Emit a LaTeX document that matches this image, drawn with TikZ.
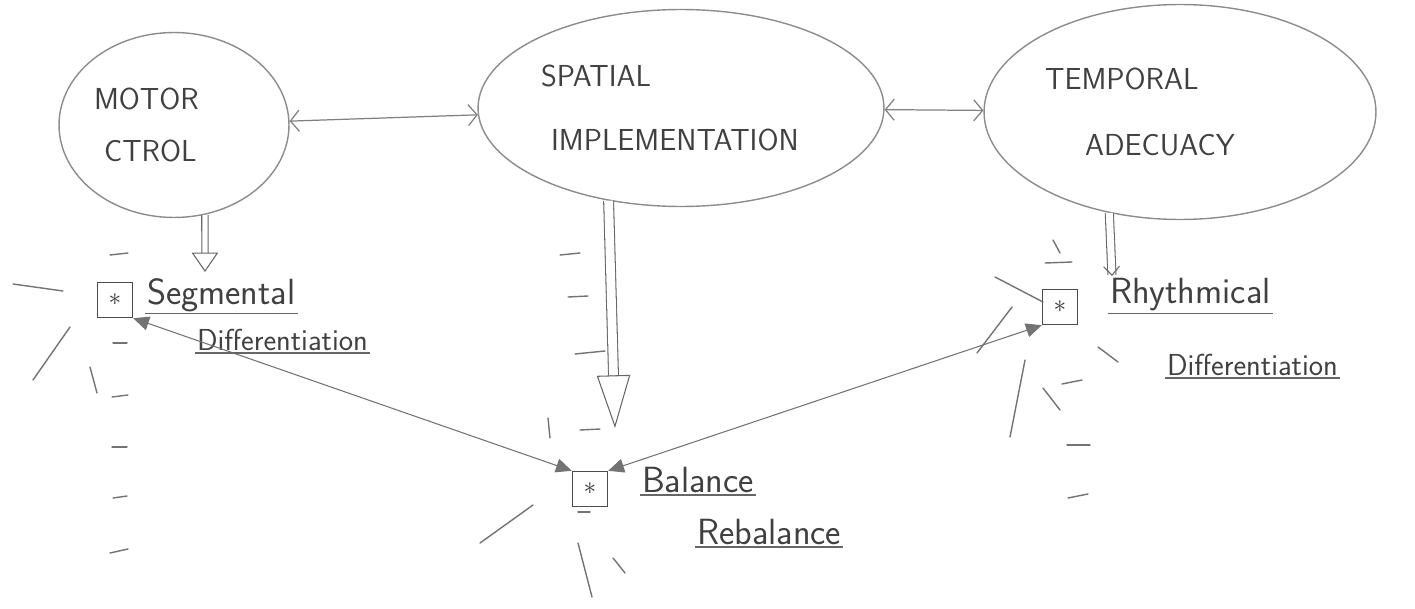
\documentclass[tikz,border=0pt]{standalone}
\usetikzlibrary{shapes.geometric}
\usetikzlibrary{arrows.meta}
\tikzset{
    idea/.style={
        ellipse,
        draw=black!45,
        line width=0.8pt,
        inner sep=0pt,
        align=left,
        text=black!75,
        font=\sffamily\LARGE},
    marker/.style={
        rectangle,
        draw=black!70,
        line width=0.8pt,
        minimum size=0.7cm,
        inner sep=0pt,
        text=black!80,
        font=\Large},
    note/.style={
        anchor=west,
        inner sep=1pt,
        text=black!75,
        font=\sffamily\huge},
    rule/.style={draw=black!60, line width=0.7pt},
    tick/.style={draw=black!55, line width=0.8pt, line cap=round},
    link/.style={draw=black!50, line width=0.7pt,
        {Straight Barb[length=5pt,width=12pt]}-{Straight Barb[length=5pt,width=12pt]}},
    sync/.style={draw=black!55, line width=0.6pt,
        {Triangle[length=9pt,width=8pt]}-{Triangle[length=9pt,width=8pt]}},
    feed/.style={draw=black!60, double=white, line width=0.6pt}}

\begin{document}
\begin{tikzpicture}[x=0.02cm,y=-0.02cm]
        \useasboundingbox (0,0) rectangle (1415,608);

        \node[idea, text width=3.2cm, minimum width=4.6cm, minimum height=3.7cm] (motor) at (174,125) {MOTOR\\[8pt]\hspace*{0.2cm}CTROL};
        \node[idea, text width=5.6cm, minimum width=8.12cm, minimum height=3.94cm] (spatial) at (681,108) {SPATIAL\\[14pt]\hspace*{0.2cm}IMPLEMENTATION};
        \node[idea, text width=5.4cm, minimum width=7.84cm, minimum height=4.3cm] (temporal) at (1180,112) {TEMPORAL\\[16pt]\hspace*{0.8cm}ADECUACY};

        \node[marker] (seg) at (115,300) {$\ast$};
        \node[marker] (bal) at (590,489) {$\ast$};
        \node[marker] (rhy) at (1060,307) {$\ast$};

        \node[note] (segA) at (145,295) {Segmental};
        \node[note, font=\sffamily\LARGE] (segB) at (195,340) {Differentiation};
        \node[note] (balA) at (640,480) {Balance};
        \node[note] (balB) at (695,532) {Rebalance};
        \node[note] (rhyA) at (1108,295) {Rhythmical};
        \node[note, font=\sffamily\LARGE] (rhyB) at (1165,365) {Differentiation};

        \coordinate (segin) at (205,272);
        \coordinate (balin) at (615,428);
        \coordinate (rhyin) at (1112,276);

        \draw[link] (motor) -- (spatial);
        \draw[link] (spatial) -- (temporal);

        \draw[feed, double distance=3pt, -{Triangle[open,length=11pt,width=15pt]}] (motor.-71) -- (segin);
        \draw[feed, double distance=5pt, -{Triangle[open,length=30pt,width=19pt]}] (spatial.-128) -- (balin);
        \draw[feed, double distance=4pt, -{Straight Barb[length=5pt,width=9pt]}] (temporal.-125) -- (rhyin);

        \draw[sync] (seg.south east) -- (bal.north west);
        \draw[sync] (rhy.south west) -- (bal.north east);

        \foreach \n in {segA,segB,balA,balB,rhyA,rhyB}
            \draw[rule] (\n.south west) -- (\n.south east);

        \foreach \xa/\ya/\xb/\yb in {110/255/128/253, 113/343/127/343, 112/397/128/395, 112/447/127/447,
                113/498/127/496, 110/553/128/549, 13/284/63/291, 33/380/70/327, 90/367/97/393,
                560/255/580/253, 568/297/588/296, 575/354/605/351, 580/430/600/429, 548/418/550/438,
                578/512/590/512, 480/543/533/505, 578/543/592/597, 613/558/625/573,
                1045/263/1072/262, 1053/240/1060/253, 1062/384/1082/380, 1067/445/1090/445,
                1068/498/1088/494, 995/277/1043/302, 977/353/1012/307, 1098/347/1118/362,
                1043/388/1060/410, 1010/437/1025/360}
            \draw[tick] (\xa,\ya) -- (\xb,\yb);

    \end{tikzpicture}
\end{document}
